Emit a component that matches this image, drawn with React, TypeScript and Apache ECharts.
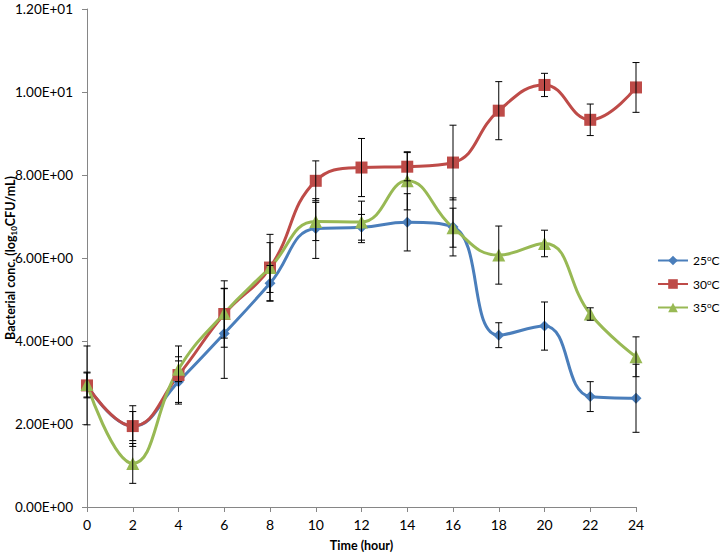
import React, { useEffect, useRef } from "react";
import * as echarts from "echarts";

const hours = [0, 2, 4, 6, 8, 10, 12, 14, 16, 18, 20, 22, 24];
const yTicks = [0, 2, 4, 6, 8, 10, 12];
const seriesNames = ["25oC", "30oC", "35oC"];
const t25 = [2.93, 1.95, 3.02, 4.18, 5.39, 6.71, 6.74, 6.86, 6.75, 4.14, 4.36, 2.66, 2.62];
const t30 = [2.93, 1.95, 3.18, 4.65, 5.77, 7.86, 8.18, 8.2, 8.3, 9.55, 10.17, 9.33, 10.11];
const t35 = [2.95, 1.05, 3.32, 4.67, 5.77, 6.88, 6.87, 7.86, 6.73, 6.07, 6.35, 4.65, 3.62];
const err25 = [0.95, 0.35, 0.5, 1.08, 0.43, 0.72, 0.31, 0.69, 0.7, 0.3, 0.58, 0.36, 0.82];
const err30 = [0.3, 0.49, 0.7, 0.8, 0.8, 0.48, 0.7, 0.34, 0.9, 0.7, 0.28, 0.38, 0.6];
const err35 = [0.3, 0.48, 0.3, 0.6, 0.6, 0.46, 0.5, 0.7, 0.47, 0.7, 0.32, 0.15, 0.48];

const colors = ["#4A7EBB", "#BE4B48", "#98B954"];
const symbols = ["diamond", "rect", "triangle"];
const symbolSizes = [11, 12, 13];
const values = [t25, t30, t35];
const errs = [err25, err30, err35];

const FONT = "Lato, 'Open Sans', sans-serif";

function fmtE(v: number): string {
  if (v === 0) return "0.00E+00";
  const e = Math.floor(Math.log10(Math.abs(v)) + 1e-9);
  const m = v / Math.pow(10, e);
  const sign = e < 0 ? "-" : "+";
  const ae = Math.abs(e);
  return m.toFixed(2) + "E" + sign + (ae < 10 ? "0" + ae : String(ae));
}

export default function App() {
  const ref = useRef<HTMLDivElement>(null);
  useEffect(() => {
    if (!ref.current) return;
    const chart = echarts.init(ref.current, null, { renderer: "svg" });
    const lineSeries = values.map((vals, i) => ({
      name: seriesNames[i],
      type: "line",
      data: hours.map((h, j) => [h, vals[j]]),
      smooth: 0.45,
      symbol: symbols[i],
      symbolSize: symbolSizes[i],
      itemStyle: { color: colors[i] },
      lineStyle: { color: colors[i], width: 3 },
      z: 3,
    }));
    const errSeries = values.map((vals, i) => ({
      name: "err" + i,
      type: "custom",
      clip: false,
      z: 4,
      data: hours.map((h, j) => [h, vals[j] - errs[i][j], vals[j] + errs[i][j]]),
      encode: { x: 0, y: [1, 2] },
      renderItem: (params: any, api: any) => {
        const x = api.value(0);
        const lo = api.coord([x, api.value(1)]);
        const hi = api.coord([x, api.value(2)]);
        const hw = 3.5;
        const style = { stroke: "#000", lineWidth: 1 };
        return {
          type: "group",
          children: [
            { type: "line", shape: { x1: lo[0], y1: lo[1], x2: hi[0], y2: hi[1] }, style },
            { type: "line", shape: { x1: lo[0] - hw, y1: lo[1], x2: lo[0] + hw, y2: lo[1] }, style },
            { type: "line", shape: { x1: hi[0] - hw, y1: hi[1], x2: hi[0] + hw, y2: hi[1] }, style },
          ],
        };
      },
    }));
    chart.setOption({
      animation: false,
      backgroundColor: "#fff",
      grid: { left: 87, right: 86, top: 9, bottom: 49, outerBoundsMode: "none", containLabel: false },
      graphic: [
        {
          type: "text",
          x: 10,
          y: 258,
          rotation: Math.PI / 2,
          style: {
            text: "Bacterial conc. (log{sub|10}CFU/mL)",
            align: "center",
            verticalAlign: "middle",
            fontFamily: FONT,
            fontWeight: "bold",
            fontSize: 12.5,
            fill: "#000",
            rich: {
              sub: { fontFamily: FONT, fontWeight: "bold", fontSize: 8, fill: "#000", padding: [7, 0, 0, 0] },
            },
          },
        },
      ],
      legend: {
        data: seriesNames,
        orient: "vertical",
        left: 652,
        top: 249,
        itemWidth: 30,
        itemHeight: 12,
        itemGap: 11,
        formatter: (name: string) => name.replace("oC", "{sup|o}C"),
        textStyle: {
          fontFamily: FONT,
          fontSize: 12,
          color: "#000",
          rich: {
            sup: { fontSize: 8, verticalAlign: "top", fontFamily: FONT, color: "#000", padding: [0, 0, 5, 0] },
          },
        },
      },
      xAxis: {
        type: "value",
        min: 0,
        max: 24,
        interval: 2,
        name: "Time (hour)",
        nameLocation: "middle",
        nameGap: 32,
        nameTextStyle: { fontFamily: FONT, fontWeight: "bold", fontSize: 12.5, color: "#000" },
        axisLine: { lineStyle: { color: "#868686", width: 1 } },
        axisTick: { show: true, length: 5, lineStyle: { color: "#868686" } },
        axisLabel: { fontFamily: FONT, fontSize: 14, color: "#000", margin: 10 },
        splitLine: { show: false },
      },
      yAxis: {
        type: "value",
        min: yTicks[0],
        max: yTicks[yTicks.length - 1],
        interval: 2,
        axisLine: { show: true, lineStyle: { color: "#868686", width: 1 } },
        axisTick: { show: true, length: 5, lineStyle: { color: "#868686" } },
        axisLabel: { fontFamily: FONT, fontSize: 13.5, color: "#000", margin: 14, formatter: (v: number) => fmtE(v) },
        splitLine: { show: false },
      },
      series: [...lineSeries, ...errSeries],
    });
    return () => chart.dispose();
  }, []);
  return (
    <div
      ref={ref}
      style={{ position: "fixed", left: 0, top: 0, width: 722, height: 556, background: "#fff" }}
    />
  );
}
